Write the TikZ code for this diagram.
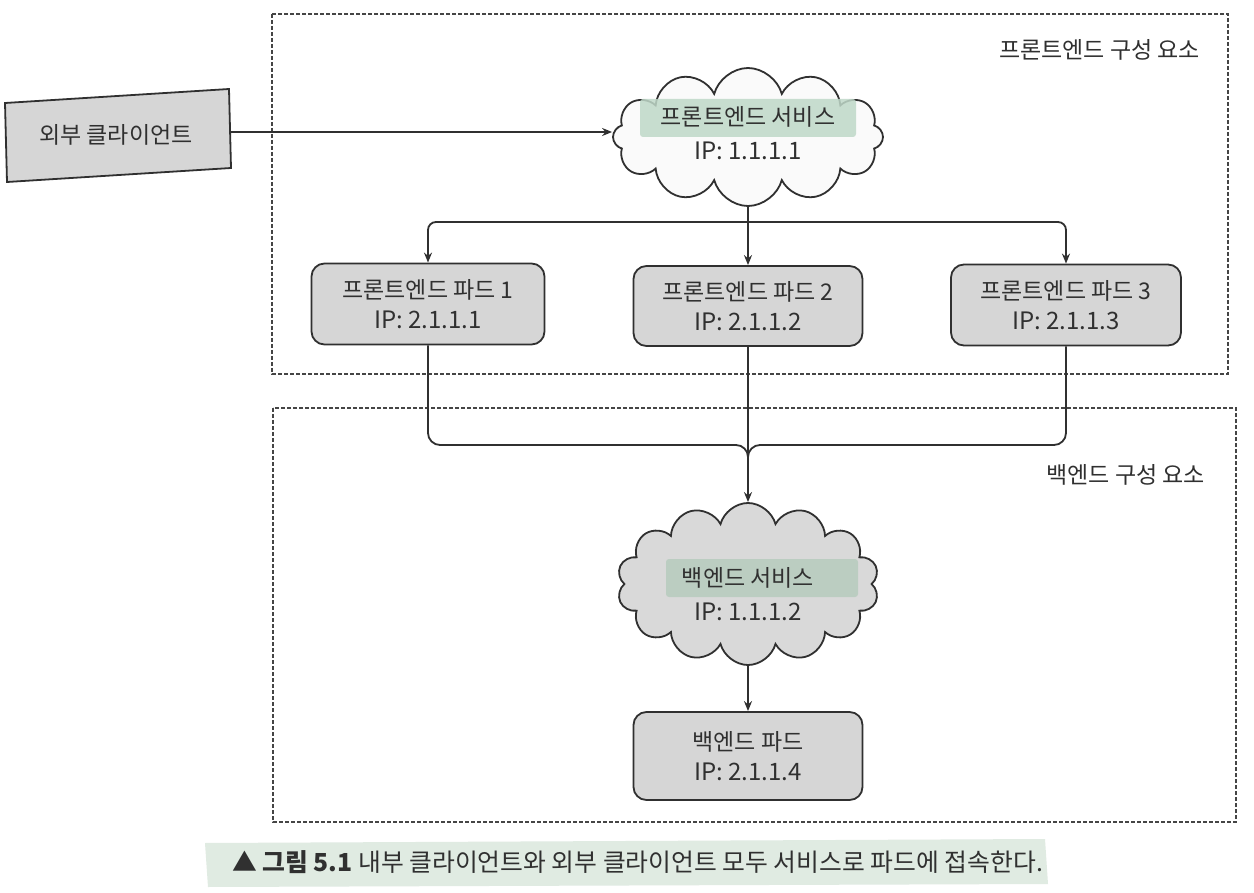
\documentclass[tikz,border=0pt]{standalone}
\usepackage{fontspec}
\setmainfont{Noto Sans CJK KR}
\usetikzlibrary{shapes.symbols,arrows.meta}
\definecolor{ink}{HTML}{303030}
\definecolor{podfill}{HTML}{D6D6D6}
\definecolor{cloudfill}{HTML}{FAFAFA}
\definecolor{bcloudfill}{HTML}{D9D9D9}
\definecolor{hilite}{HTML}{BFD8C8}
\definecolor{caphl}{HTML}{E0EBE2}
\newcommand{\ipfont}{\fontsize{24}{30}\selectfont}
\tikzset{
  frame/.style={draw=ink!90,line width=1.3pt,dash pattern=on 4pt off 2pt},
  podbox/.style={draw=ink,fill=podfill,line width=1.8pt,rounded corners=13pt,align=center,font=\fontsize{23}{30}\selectfont,text=ink,inner sep=0pt},
  cloudbox/.style={cloud,cloud ignores aspect,draw=ink,line width=1.8pt,inner sep=0pt},
  conn/.style={draw=ink,line width=1.8pt},
  arr/.style={conn,-{Stealth[length=10pt,width=8pt]}},
  lbl/.style={font=\fontsize{23}{26}\selectfont,text=ink,inner sep=0pt},
}
\begin{document}
\begin{tikzpicture}[x=1pt,y=-1pt]
\useasboundingbox (0,0) rectangle (1254,893);
\fill[white] (0,0) rectangle (1254,893);
% frames
\draw[frame] (272,14) rectangle (1228,374);
\draw[frame] (273,408) rectangle (1236,822);
\node[lbl,anchor=east] (fl) at (1200,50) {프론트엔드 구성 요소};
\node[lbl,anchor=east] (bl) at (1205,475) {백엔드 구성 요소};
% external client
\filldraw[draw=ink,fill=podfill,line width=1.8pt] (5,103) -- (229,89) -- (231,168) -- (7,182) -- cycle;
\node[lbl] (client) at (116,135) {외부 클라이언트};
\coordinate (cl) at (231,132);
% front cloud
\node[cloudbox,cloud puffs=12,fill=cloudfill,minimum width=270pt,minimum height=138pt] (fc) at (748,137) {};
\fill[hilite,opacity=0.85,rounded corners=3pt] (640,99) rectangle (856,137);
\node[lbl] (fct) at (748,117) {프론트엔드 서비스};
\node[lbl,font=\ipfont] (fci) at (748,151) {IP: 1.1.1.1};
\draw[arr] (cl) -- (fc.west |- cl);
% pods
\node[podbox,minimum width=233pt,minimum height=81pt] (p1) at (428,304) {프론트엔드 파드 1\\{\ipfont IP: 2.1.1.1}};
\node[podbox,minimum width=229pt,minimum height=80pt] (p2) at (748,306) {프론트엔드 파드 2\\{\ipfont IP: 2.1.1.2}};
\node[podbox,minimum width=230pt,minimum height=81pt] (p3) at (1066,305) {프론트엔드 파드 3\\{\ipfont IP: 2.1.1.3}};
\coordinate (br) at (748,222);
\draw[arr] (fc.south) -- (p2.north);
\draw[arr,rounded corners=8pt] (br) -| (p1.north);
\draw[arr,rounded corners=8pt] (br) -| (p3.north);
% merge
\coordinate (mj) at (748,445);
\coordinate (mo) at (748,472);
\draw[conn,rounded corners=12pt] (p1.south) |- (mj) -- (mo);
\draw[conn,rounded corners=12pt] (p3.south) |- (mj) -- (mo);
% backend cloud
\node[cloudbox,cloud puffs=14,fill=bcloudfill,minimum width=262pt,minimum height=162pt] (bc) at (748,584) {};
\draw[arr] (p2.south) -- (bc.north);
\fill[hilite!85!gray,opacity=0.85,rounded corners=3pt] (666,559) rectangle (858,597);
\node[lbl] (bct) at (748,578) {백엔드 서비스};
\node[lbl,font=\ipfont] (bci) at (748,612) {IP: 1.1.1.2};
% backend pod
\node[podbox,minimum width=229pt,minimum height=88pt] (bp) at (748,756) {백엔드 파드\\{\ipfont IP: 2.1.1.4}};
\draw[arr] (bc.south) -- (bp.north);
% caption
\fill[caphl] (205,843) -- (1045,839) -- (1048,884) -- (208,887) -- cycle;
\node[anchor=west,inner sep=0pt,font=\fontsize{24.8}{27}\selectfont,text=ink] (cap) at (232,862) {▲ \textbf{그림 5.1} 내부 클라이언트와 외부 클라이언트 모두 서비스로 파드에 접속한다.};
\end{tikzpicture}
\end{document}
